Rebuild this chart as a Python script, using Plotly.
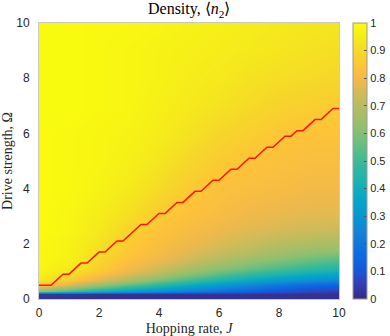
import plotly.graph_objects as go

# hopping rate J (columns) and drive strength Omega (rows) of the density map
hop = [0, 1, 2, 3, 4, 5, 6, 7, 8, 9, 10]
drive = [0, 0.18, 0.3, 0.5, 0.7, 0.9, 1.1, 1.4, 1.7, 2.0, 2.5, 3, 4, 5, 6, 7, 8, 9, 10]

# <n2>, one row per drive value
n2_00 = [0.02, 0.02, 0.01, 0.01, 0.01, 0.01, 0.01, 0.01, 0.01, 0.01, 0.01]
n2_02 = [0.03, 0.03, 0.02, 0.02, 0.02, 0.02, 0.02, 0.02, 0.02, 0.02, 0.02]
n2_03 = [0.62, 0.52, 0.42, 0.35, 0.29, 0.23, 0.18, 0.14, 0.10, 0.07, 0.05]
n2_05 = [0.86, 0.75, 0.64, 0.54, 0.46, 0.38, 0.31, 0.25, 0.19, 0.15, 0.13]
n2_07 = [0.94, 0.86, 0.77, 0.68, 0.59, 0.51, 0.44, 0.38, 0.32, 0.28, 0.25]
n2_09 = [0.97, 0.91, 0.83, 0.76, 0.69, 0.61, 0.54, 0.48, 0.43, 0.39, 0.36]
n2_11 = [0.98, 0.94, 0.87, 0.80, 0.74, 0.67, 0.61, 0.56, 0.51, 0.47, 0.44]
n2_14 = [0.99, 0.96, 0.89, 0.83, 0.79, 0.74, 0.69, 0.64, 0.60, 0.56, 0.53]
n2_17 = [0.99, 0.97, 0.91, 0.85, 0.81, 0.77, 0.73, 0.70, 0.66, 0.63, 0.61]
n2_20 = [0.99, 0.97, 0.92, 0.86, 0.82, 0.79, 0.76, 0.73, 0.70, 0.68, 0.67]
n2_25 = [1.00, 0.98, 0.94, 0.88, 0.84, 0.81, 0.79, 0.77, 0.75, 0.74, 0.73]
n2_30 = [1.00, 0.98, 0.95, 0.91, 0.86, 0.83, 0.81, 0.79, 0.78, 0.77, 0.77]
n2_40 = [1.00, 0.99, 0.97, 0.94, 0.90, 0.86, 0.83, 0.82, 0.81, 0.80, 0.80]
n2_50 = [1.00, 0.99, 0.98, 0.96, 0.93, 0.89, 0.86, 0.84, 0.83, 0.82, 0.82]
n2_60 = [1.00, 0.99, 0.98, 0.97, 0.95, 0.92, 0.89, 0.87, 0.85, 0.84, 0.84]
n2_70 = [1.00, 1.00, 0.99, 0.98, 0.96, 0.94, 0.92, 0.90, 0.88, 0.87, 0.86]
n2_80 = [1.00, 1.00, 0.99, 0.98, 0.97, 0.95, 0.94, 0.92, 0.91, 0.90, 0.89]
n2_90 = [1.00, 1.00, 0.99, 0.98, 0.97, 0.96, 0.95, 0.94, 0.93, 0.92, 0.91]
n2_100 = [1.00, 1.00, 0.99, 0.99, 0.98, 0.97, 0.96, 0.95, 0.94, 0.93, 0.93]

density = [n2_00, n2_02, n2_03, n2_05, n2_07, n2_09, n2_11, n2_14, n2_17, n2_20,
           n2_25, n2_30, n2_40, n2_50, n2_60, n2_70, n2_80, n2_90, n2_100]

# red boundary (staircase)
line_j = [0, 0.4, 0.8, 1.0, 1.4, 1.6, 2.0, 2.2, 2.6, 2.8, 3.4, 3.6, 4.0, 4.2, 4.6, 4.8,
          5.2, 5.4, 5.8, 6.0, 6.4, 6.6, 7.0, 7.2, 7.6, 7.8, 8.2, 8.4, 8.6, 8.8, 9.2, 9.4, 9.8, 10]
line_omega = [0.5, 0.5, 0.9, 0.9, 1.3, 1.3, 1.7, 1.7, 2.1, 2.1, 2.7, 2.7, 3.1, 3.1, 3.5, 3.5,
              3.9, 3.9, 4.3, 4.3, 4.7, 4.7, 5.1, 5.1, 5.5, 5.5, 5.9, 5.9, 6.1, 6.1, 6.5, 6.5, 6.9, 6.9]

cbar_ticks = [0, 0.1, 0.2, 0.3, 0.4, 0.5, 0.6, 0.7, 0.8, 0.9, 1]
cbar_labels = ["0", "0.1", "0.2", "0.3", "0.4", "0.5", "0.6", "0.7", "0.8", "0.9", "1"]

# matlab parula
parula = [
    [0.000, "rgb(53,42,135)"],
    [0.063, "rgb(50,68,185)"],
    [0.111, "rgb(15,92,221)"],
    [0.175, "rgb(13,112,224)"],
    [0.238, "rgb(20,129,214)"],
    [0.302, "rgb(7,152,209)"],
    [0.365, "rgb(6,166,198)"],
    [0.429, "rgb(29,179,175)"],
    [0.492, "rgb(56,185,152)"],
    [0.556, "rgb(101,190,129)"],
    [0.619, "rgb(144,191,111)"],
    [0.683, "rgb(174,189,100)"],
    [0.746, "rgb(209,187,89)"],
    [0.794, "rgb(241,185,74)"],
    [0.841, "rgb(254,195,56)"],
    [0.889, "rgb(246,214,42)"],
    [0.937, "rgb(245,232,29)"],
    [1.000, "rgb(249,251,14)"],
]

fig = go.Figure()
fig.add_trace(go.Heatmap(
    x=hop, y=drive, z=density, zsmooth="best", zmin=0, zmax=1,
    colorscale=parula, hoverinfo="skip",
    colorbar=dict(
        x=1.047, xanchor="left", y=0.5, yanchor="middle", len=1, lenmode="fraction",
        thickness=14, xpad=0, ypad=0, outlinewidth=1, outlinecolor="#9a9a9a",
        tickvals=cbar_ticks, ticktext=cbar_labels, ticks="inside", ticklen=3,
        tickcolor="#555555", tickfont=dict(family="Liberation Sans", size=11, color="#262626"),
    ),
))
fig.add_trace(go.Scatter(
    x=line_j, y=line_omega, mode="lines", line=dict(color="#ff1400", width=1.5),
    showlegend=False, hoverinfo="skip",
))

axis_font = dict(family="Liberation Sans", size=12, color="#262626")
fig.update_layout(
    width=390, height=336, autosize=False,
    margin=dict(l=39, r=51, t=23, b=37, autoexpand=False),
    paper_bgcolor="white", plot_bgcolor="white",
    title=dict(text="Density, ⟨<i>n</i><sub>2</sub>⟩", x=0.485, xanchor="center",
               y=1, yanchor="top", pad=dict(t=3),
               font=dict(family="Liberation Serif", size=16, color="black")),
    xaxis=dict(range=[0, 10], tickvals=[0, 2, 4, 6, 8, 10], showgrid=False, zeroline=False,
               showline=True, linecolor="#c8c8c8", linewidth=1, mirror=True, ticks="",
               tickfont=axis_font, ticklabelstandoff=3, automargin=False,
               title=dict(text="Hopping rate, <i>J</i>", standoff=3,
                          font=dict(family="Liberation Serif", size=14, color="#262626"))),
    yaxis=dict(range=[0, 10], tickvals=[0, 2, 4, 6, 8, 10], showgrid=False, zeroline=False,
               showline=True, linecolor="#c8c8c8", linewidth=1, mirror=True, ticks="",
               tickfont=axis_font, ticklabelstandoff=6, automargin=False,
               title=dict(text="Drive strength, Ω", standoff=5,
                          font=dict(family="Liberation Serif", size=14, color="#262626"))),
)

# drop the browser's default page margin so the figure sits at the window corner
fig.write_html("out.html", config={"displayModeBar": False},
               post_script="document.body.style.margin='0';")
